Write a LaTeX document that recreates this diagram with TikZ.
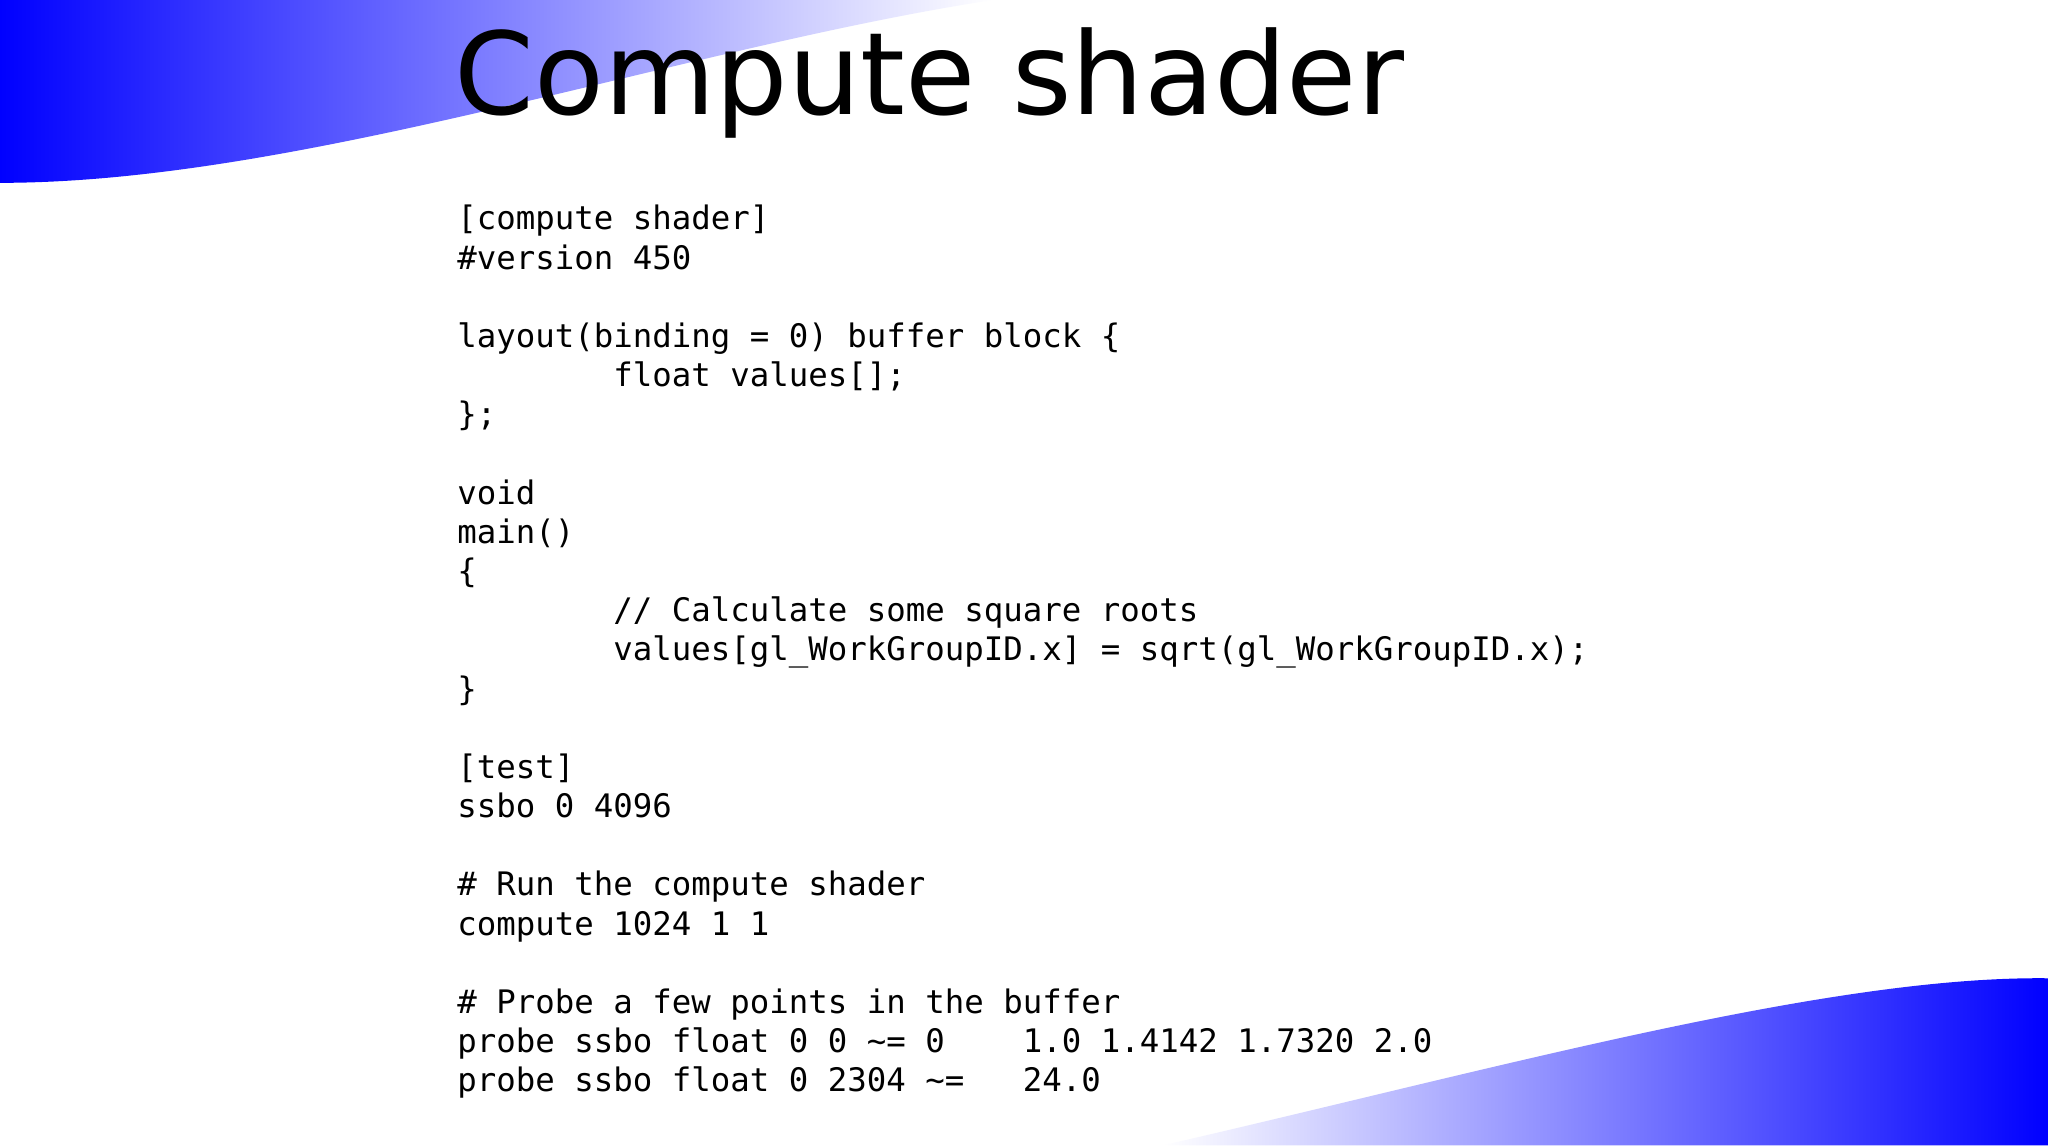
\documentclass[tikz,border=0pt]{standalone}
\usepackage{fontspec}
\setmainfont{DejaVu Sans}
\setmonofont{DejaVu Sans Mono}
\begin{document}
\begin{tikzpicture}[x=1pt,y=1pt,
  code/.style={anchor=base west,inner sep=0pt,font=\fontsize{24.8}{30}\selectfont\ttfamily}]
\useasboundingbox (0,0) rectangle (1568,877);
\fill[white] (0,0) rectangle (1568,877);
\shade[left color=blue,right color=white] (0,877) -- (760,877) .. controls (520,840) and (230,737) .. (0,737) -- cycle;
\shade[left color=white,right color=blue] (890,0) .. controls (1150,60) and (1400,130) .. (1568,128) -- (1568,0) -- cycle;
\node[anchor=base west,inner sep=0pt,font=\fontsize{87.5}{95}\selectfont] (title) at (348,789) {Compute shader};
\def\L#1#2#3{\node[code] (#1) at (350,{877-#2-6}) {#3};}
\L{l1}{170}{[compute\ shader]}
\L{l2}{200}{\#version\ 450}
\L{l3}{260}{layout(binding\ =\ 0)\ buffer\ block\ \{}
\L{l4}{290}{\ \ \ \ \ \ \ \ float\ values[];}
\L{l5}{320}{\};}
\L{l6}{380}{void}
\L{l7}{410}{main()}
\L{l8}{440}{\{}
\L{l9}{470}{\ \ \ \ \ \ \ \ //\ Calculate\ some\ square\ roots}
\L{l10}{500}{\ \ \ \ \ \ \ \ values[gl\_WorkGroupID.x]\ =\ sqrt(gl\_WorkGroupID.x);}
\L{l11}{530}{\}}
\L{l12}{590}{[test]}
\L{l13}{620}{ssbo\ 0\ 4096}
\L{l14}{680}{\#\ Run\ the\ compute\ shader}
\L{l15}{710}{compute\ 1024\ 1\ 1}
\L{l16}{770}{\#\ Probe\ a\ few\ points\ in\ the\ buffer}
\L{l17}{800}{probe\ ssbo\ float\ 0\ 0\ \string~=\ 0\ \ \ \ 1.0\ 1.4142\ 1.7320\ 2.0}
\L{l18}{830}{probe\ ssbo\ float\ 0\ 2304\ \string~=\ \ \ 24.0}
\end{tikzpicture}
\end{document}
